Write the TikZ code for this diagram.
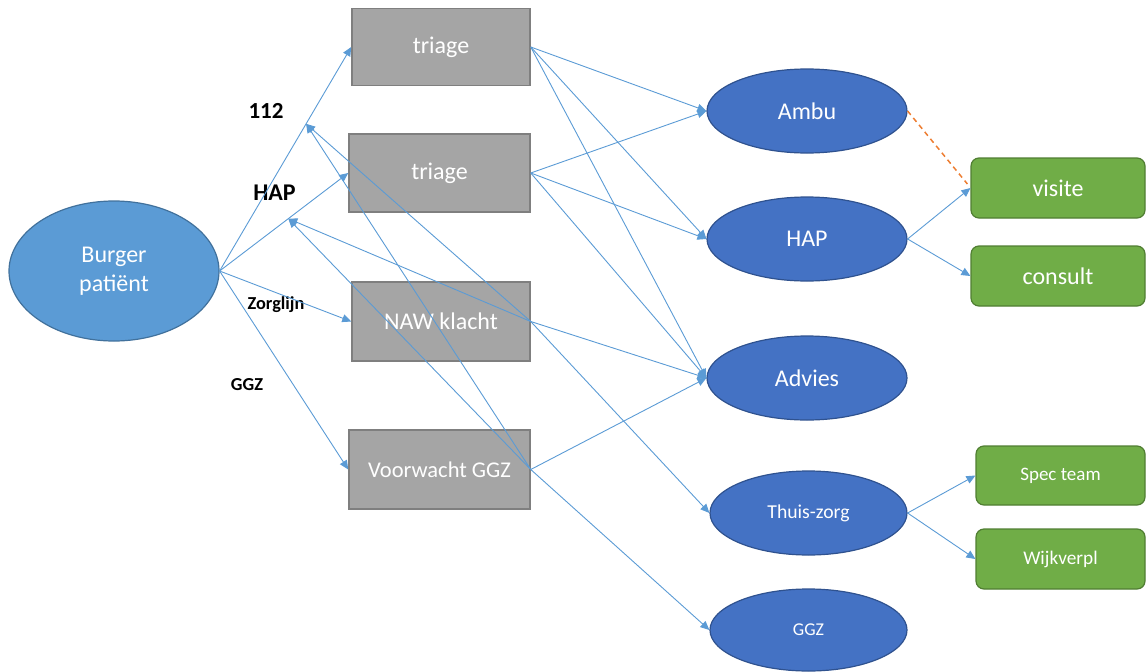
\documentclass[tikz,border=0pt]{standalone}
\usepackage{fontspec}
\setmainfont{Carlito}
\usetikzlibrary{shapes.geometric,arrows.meta,calc}
\definecolor{grayfill}{HTML}{A5A5A5}
\definecolor{grayline}{HTML}{7F7F7F}
\definecolor{burgerfill}{HTML}{5B9BD5}
\definecolor{burgerline}{HTML}{41719C}
\definecolor{bluefill}{HTML}{4472C4}
\definecolor{blueline}{HTML}{2F528F}
\definecolor{greenfill}{HTML}{70AD47}
\definecolor{greenline}{HTML}{507E32}
\definecolor{connblue}{HTML}{5B9BD5}
\definecolor{dashorange}{HTML}{ED7D31}
\begin{document}
\begin{tikzpicture}[x=1pt,y=-1pt,
  graybox/.style={draw=grayline, line width=1.5pt, fill=grayfill, text=white, minimum width=178pt, minimum height=77pt, inner sep=0pt, font=\fontsize{24}{28}\selectfont},
  blueell/.style={ellipse, draw=blueline, line width=1.2pt, fill=bluefill, text=white, minimum width=200pt, minimum height=84pt, inner sep=0pt, font=\fontsize{24}{28}\selectfont},
  greenbox/.style={rounded corners=8pt, draw=greenline, line width=1.2pt, fill=greenfill, text=white, minimum width=174pt, minimum height=60pt, inner sep=0pt, font=\fontsize{24}{28}\selectfont},
  conn/.style={draw=connblue, line width=0.9pt, -{Triangle[length=9pt,width=8pt]}},
  lbl/.style={inner sep=0pt, text=black},
]
\useasboundingbox (0,0) rectangle (1146,672);

% left ellipse
\node[ellipse, draw=burgerline, line width=1.2pt, fill=burgerfill, text=white, minimum width=210pt, minimum height=140pt, inner sep=0pt, align=center, font=\fontsize{24}{29}\selectfont] (burger) at (114,271) {Burger\\patiënt};

% gray boxes
\node[graybox] (t1) at (441,47) {triage};
\node[graybox, minimum width=181pt, minimum height=78pt] (t2) at (439.5,173) {triage};
\node[graybox, minimum height=79pt] (naw) at (441,321.5) {NAW klacht};
\node[graybox, minimum width=181pt, minimum height=79pt, font=\fontsize{22.5}{27}\selectfont] (vw) at (439.5,469.5) {Voorwacht GGZ};

% blue ellipses
\node[blueell] (ambu) at (807,111) {Ambu};
\node[blueell] (hap) at (807,239) {HAP};
\node[blueell] (advies) at (807,378) {Advies};
\node[blueell, minimum width=197pt, font=\fontsize{19.7}{24}\selectfont] (thuis) at (808.5,513) {Thuis-zorg};
\node[blueell, minimum width=197pt, minimum height=82pt, font=\fontsize{18}{22}\selectfont] (ggz) at (808.5,630) {GGZ};

% green boxes
\node[greenbox] (visite) at (1058,188) {visite};
\node[greenbox] (consult) at (1058,276) {consult};
\node[greenbox, minimum width=169pt, minimum height=59pt, font=\fontsize{19}{23}\selectfont] (spec) at (1060.5,475.5) {Spec team};
\node[greenbox, minimum width=169pt, font=\fontsize{19.3}{23}\selectfont] (wijk) at (1060.5,559) {Wijkverpl};

% labels
\node[lbl, font=\bfseries\fontsize{23}{27}\selectfont] (l112) at (266,111) {112};
\node[lbl, font=\bfseries\fontsize{24}{28}\selectfont] (lhap) at (274.5,192.5) {HAP};
\node[lbl, font=\bfseries\fontsize{18.3}{22}\selectfont] (lzorg) at (276,305) {Zorglijn};
\node[lbl, font=\bfseries\fontsize{18.3}{22}\selectfont] (lggz) at (247,384.5) {GGZ};

% points on the Burger lines
\coordinate (p112) at ($(burger.east)!0.657!(t1.west)$);
\coordinate (phap) at ($(burger.east)!0.534!(t2.west)$);

% connectors from Burger
\draw[conn] (burger.east) -- (t1.west);
\draw[conn] (burger.east) -- (t2.west);
\draw[conn] (burger.east) -- (naw.west);
\draw[conn] (burger.east) -- (vw.west);

% from triage boxes
\draw[conn] (t1.east) -- (ambu.west);
\draw[conn] (t1.east) -- (hap.west);
\draw[conn] (t1.east) -- (advies.west);
\draw[conn] (t2.east) -- (ambu.west);
\draw[conn] (t2.east) -- (hap.west);
\draw[conn] (t2.east) -- (advies.west);

% from NAW klacht
\draw[conn] (naw.east) -- (p112);
\draw[conn] (naw.east) -- (phap);
\draw[conn] (naw.east) -- (advies.west);
\draw[conn] (naw.east) -- (thuis.west);

% from Voorwacht GGZ
\draw[conn] (vw.east) -- (p112);
\draw[conn] (vw.east) -- (phap);
\draw[conn] (vw.east) -- (advies.west);
\draw[conn] (vw.east) -- (ggz.west);

% right side
\draw[conn] (hap.east) -- (visite.west);
\draw[conn] (hap.east) -- (consult.west);
\draw[conn] (thuis.east) -- (spec.west);
\draw[conn] (thuis.east) -- (wijk.west);

\draw[draw=dashorange, line width=1.5pt, dash pattern=on 5pt off 4pt] (ambu.east) -- ($(visite.west)+(-3,-4)$);
\end{tikzpicture}
\end{document}
